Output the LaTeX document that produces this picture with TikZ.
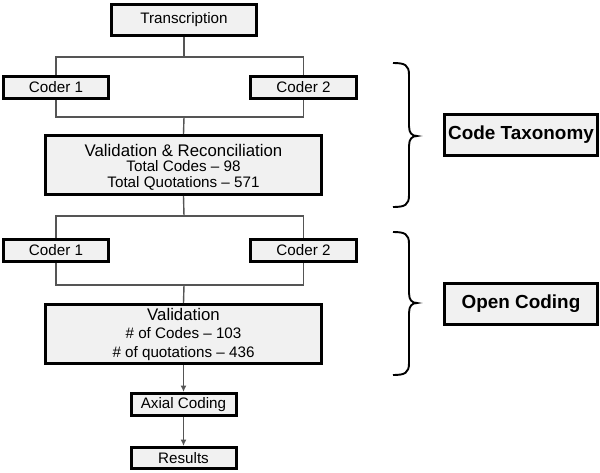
\documentclass[tikz,border=0pt]{standalone}
\usepackage{fontspec}
\setmainfont{Liberation Sans}
\usetikzlibrary{arrows.meta}
\definecolor{boxfill}{HTML}{F1F1F1}
\definecolor{linegray}{HTML}{555555}
\tikzset{
  box/.style={draw=black, line width=3pt, fill=boxfill, inner sep=0pt, align=center,
    font=\fontsize{15.2}{16}\selectfont},
  smallbox/.style={box, minimum width=105pt, minimum height=22pt},
  bigbox/.style={box, minimum width=276pt, minimum height=59pt},
  phasebox/.style={box, minimum width=153pt, minimum height=41pt,
    font=\fontsize{18.9}{20}\selectfont\bfseries},
  conn/.style={draw=linegray, line width=1.4pt},
  arr/.style={conn, -{Latex[length=6.5pt,width=6pt]}},
  bracestyle/.style={draw=black, line width=1.9pt}
}
\begin{document}
\begin{tikzpicture}[x=1pt,y=-1pt]
\useasboundingbox (0,0) rectangle (600,472);
% nodes
\node[box, minimum width=145pt, minimum height=31pt] (trans) at (184,20) {Transcription};
\node[smallbox] (c1) at (56,87.5) {Coder 1};
\node[smallbox, minimum width=106pt] (c2) at (303.5,87.5) {Coder 2};
\node[bigbox] (vr) at (183.5,165) {\rule{0pt}{16pt}{\fontsize{16.8}{16}\selectfont Validation \& Reconciliation}\\[-0.5pt]Total Codes – 98\\[-0.5pt]Total Quotations – 571};
\node[smallbox] (c3) at (56,250.5) {Coder 1};
\node[smallbox, minimum width=106pt] (c4) at (303.5,250.5) {Coder 2};
\node[bigbox] (val) at (183.5,334) {{\fontsize{16.8}{16}\selectfont Validation}\\[2.5pt]\# of Codes – 103\\[2.5pt]\# of quotations – 436};
\node[smallbox] (axial) at (183.5,404.5) {Axial Coding};
\node[smallbox, minimum height=21pt] (res) at (183.5,458) {Results};
\node[phasebox] (ct) at (521,135) {Code Taxonomy};
\node[phasebox] (oc) at (521,304) {Open Coding};
% junction coordinates
\coordinate (b1) at (184,57);
\coordinate (m1) at (184,117);
\coordinate (b2) at (184,216);
\coordinate (m2) at (184,285);
% connectors
\draw[conn] (trans.south) -- (b1);
\draw[conn] (c1.north) |- (b1) -| (c2.north);
\draw[conn] (c1.south) |- (m1) -| (c2.south);
\draw[conn] (m1) -- (vr.north);
\draw[conn] (vr.south) -- (b2);
\draw[conn] (c3.north) |- (b2) -| (c4.north);
\draw[conn] (c3.south) |- (m2) -| (c4.south);
\draw[conn] (m2) -- (val.north);
\draw[arr] (val.south) -- (axial.north);
\draw[arr] (axial.south) -- (res.north);
% braces
\draw[bracestyle] (393,63) .. controls (405,63) and (409,65) .. (409,75) -- (409,126)
  .. controls (409,133) and (412,136) .. (417,136)
  .. controls (412,136) and (409,139) .. (409,146) -- (409,195)
  .. controls (409,205) and (405,207) .. (393,207);
\draw[bracestyle] (393,232) .. controls (405,232) and (409,234) .. (409,244) -- (409,293)
  .. controls (409,300) and (412,303) .. (417,303)
  .. controls (412,303) and (409,306) .. (409,313) -- (409,363)
  .. controls (409,373) and (405,375) .. (393,375);
\end{tikzpicture}
\end{document}
